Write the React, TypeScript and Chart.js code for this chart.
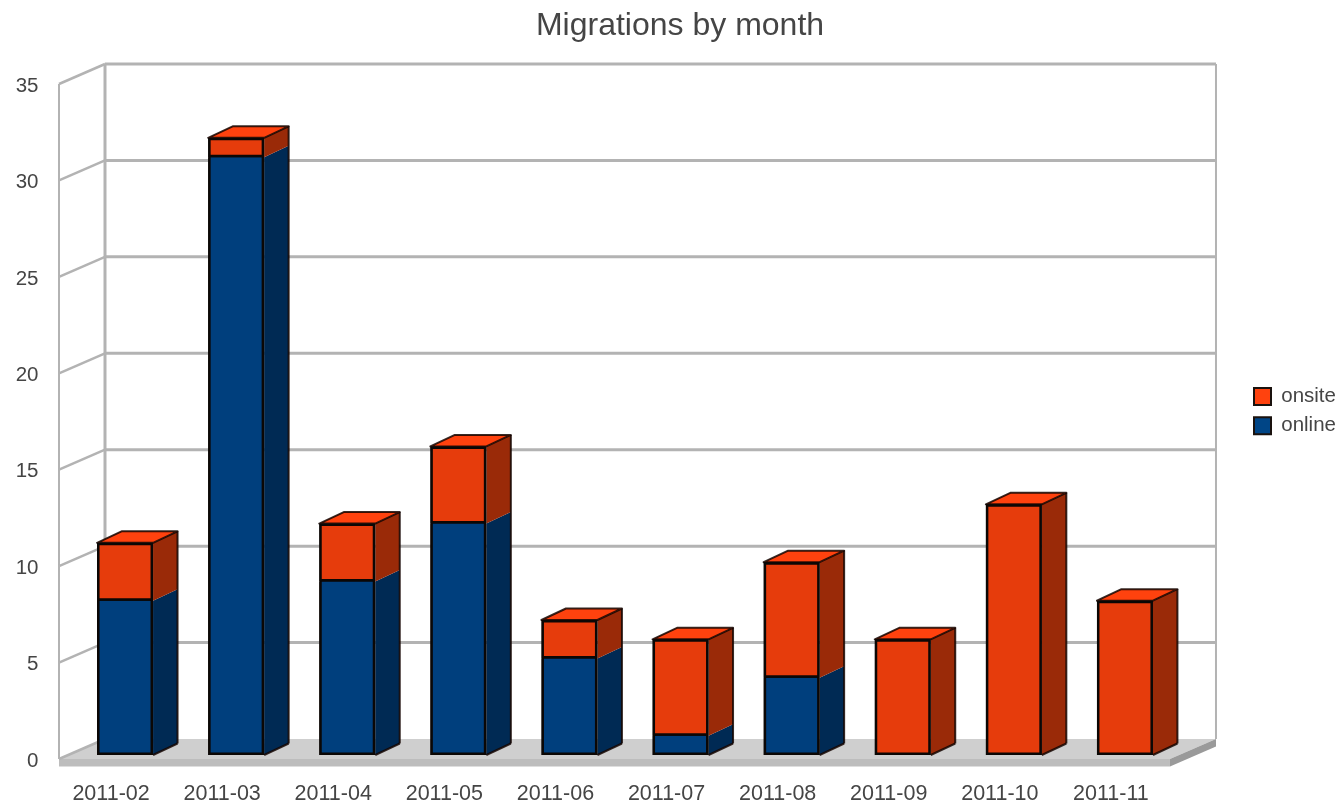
import React, { useEffect, useRef } from "react";
import { Chart, registerables } from "chart.js";

Chart.register(...registerables);

const months = ["2011-02", "2011-03", "2011-04", "2011-05", "2011-06", "2011-07", "2011-08", "2011-09", "2011-10", "2011-11"];
const online = [8, 31, 9, 12, 5, 1, 4, 0, 0, 0];
const onsite = [3, 1, 3, 4, 2, 5, 6, 6, 13, 8];

const FONT = "'Liberation Sans', Arial, sans-serif";
const TEXT = "#454545";
const GRID = "#b3b3b3";
const BAR_EDGE = "#0b0705";

// Shading of each series: front, side and top faces, plus the legend swatch.
const faces = [
  { front: "#003f7d", side: "#002a54", top: "#004586", key: "#004586" },
  { front: "#e63c0c", side: "#9a2a08", top: "#ff420e", key: "#ff420e" },
];

// Projection offsets, relative to the plane of the bars' front faces.
const BAR_DX = 24.5;
const BAR_DY = 11.5;
const WALL_FRONT = { dx: -10.5, dy: 4 };
const WALL_BACK = { dx: 35.5, dy: -16 };
const FLOOR_EDGE = 7.5;

function poly(ctx: CanvasRenderingContext2D, pts: number[][], fill?: string, stroke?: string, lw = 1) {
  ctx.beginPath();
  pts.forEach(([x, y], i) => (i ? ctx.lineTo(x, y) : ctx.moveTo(x, y)));
  ctx.closePath();
  if (fill) {
    ctx.fillStyle = fill;
    ctx.fill();
  }
  if (stroke) {
    ctx.strokeStyle = stroke;
    ctx.lineWidth = lw;
    ctx.lineJoin = "round";
    ctx.stroke();
  }
}

function line(ctx: CanvasRenderingContext2D, x1: number, y1: number, x2: number, y2: number, color: string, lw: number) {
  ctx.beginPath();
  ctx.moveTo(x1, y1);
  ctx.lineTo(x2, y2);
  ctx.strokeStyle = color;
  ctx.lineWidth = lw;
  ctx.stroke();
}

// Draws the room behind the bars and the side and top faces of every bar.
const extrusion = {
  id: "extrusion",
  afterLayout(chart: any) {
    const legend = chart.legend;
    const width = legend.right - legend.left;
    const height = legend.bottom - legend.top;
    legend.left = 1245.2;
    legend.right = legend.left + width;
    legend.top = 377.45;
    legend.bottom = legend.top + height;
    chart.titleBlock.left = 0;
    chart.titleBlock.right = 1360;
  },
  beforeDatasetsDraw(chart: any) {
    const { ctx, chartArea, scales } = chart;
    const { y } = scales;
    const left = chartArea.left;
    const right = chartArea.right;
    const y0 = y.getPixelForValue(0);
    const yMax = y.getPixelForValue(y.max);
    ctx.save();

    const fl = left + WALL_FRONT.dx;
    const fr = right + WALL_FRONT.dx;
    const bl = left + WALL_BACK.dx;
    const br = right + WALL_BACK.dx;

    // floor slab
    const fy = y0 + WALL_FRONT.dy;
    const by = y0 + WALL_BACK.dy;
    poly(ctx, [[fl, fy], [bl, by], [br, by], [fr, fy]], "#cfcfcf");
    poly(ctx, [[fl, fy], [fr, fy], [fr, fy + FLOOR_EDGE], [fl, fy + FLOOR_EDGE]], "#bdbdbd");
    poly(ctx, [[fr, fy], [br, by], [br, by + FLOOR_EDGE], [fr, fy + FLOOR_EDGE]], "#9a9a9a");

    // side wall, back wall and gridlines
    line(ctx, fl, yMax + WALL_FRONT.dy, fl, fy, GRID, 2);
    line(ctx, bl, yMax + WALL_BACK.dy, bl, by, GRID, 3);
    line(ctx, br, yMax + WALL_BACK.dy, br, by, GRID, 2);
    for (const tick of y.ticks) {
      const p = y.getPixelForValue(tick.value);
      line(ctx, fl, p + WALL_FRONT.dy, bl, p + WALL_BACK.dy, GRID, 2.5);
      if (tick.value > 0) line(ctx, bl, p + WALL_BACK.dy, br, p + WALL_BACK.dy, GRID, 3);
    }

    // side faces first, so the fronts painted by the library sit over their edges
    const edge = "rgba(20,5,0,0.85)";
    chart.data.labels.forEach((_: string, i: number) => {
      let topBar: any = null;
      let topFace: any = null;
      let baseY = 0;
      chart.data.datasets.forEach((ds: any, d: number) => {
        if (!ds.data[i]) return;
        const bar = chart.getDatasetMeta(d).data[i];
        const xr = bar.x + bar.width / 2;
        poly(ctx, [[xr, bar.y], [xr + BAR_DX, bar.y - BAR_DY], [xr + BAR_DX, bar.base - BAR_DY], [xr, bar.base]], faces[d].side);
        if (!topBar) baseY = bar.base;
        topBar = bar;
        topFace = faces[d];
      });
      if (!topBar) return;
      const xl = topBar.x - topBar.width / 2;
      const xr = topBar.x + topBar.width / 2;
      const t = topBar.y;
      poly(ctx, [[xl, t], [xl + BAR_DX, t - BAR_DY], [xr + BAR_DX, t - BAR_DY], [xr, t]], topFace.top, edge, 2);
      line(ctx, xr + BAR_DX, t - BAR_DY, xr + BAR_DX, baseY - BAR_DY, edge, 2);
      line(ctx, xr + BAR_DX, baseY - BAR_DY, xr, baseY, edge, 2);
      // dark backing keeps the seams between stacked fronts from showing through
      ctx.fillStyle = BAR_EDGE;
      ctx.fillRect(xl, t, xr - xl, baseY - t);
    });
    ctx.restore();
  },
};

export default function App() {
  const ref = useRef<HTMLCanvasElement>(null);

  useEffect(() => {
    const chart = new Chart(ref.current as HTMLCanvasElement, {
      type: "bar",
      plugins: [extrusion],
      data: {
        labels: months,
        datasets: [
          // the lower segment leaves its top edge to the segment stacked on it
          { label: "online", data: online, backgroundColor: faces[0].front, borderSkipped: "top" },
          { label: "onsite", data: onsite, backgroundColor: faces[1].front, borderSkipped: false },
        ],
      },
      options: {
        responsive: false,
        animation: false,
        events: [],
        layout: { padding: { left: 0, right: 55.75, top: 0, bottom: 0 } },
        datasets: {
          bar: {
            categoryPercentage: 0.504,
            barPercentage: 1,
            borderWidth: 2.5,
            borderColor: BAR_EDGE,
          },
        },
        plugins: {
          tooltip: { enabled: false },
          title: {
            display: true,
            text: "Migrations by month",
            color: TEXT,
            font: { family: FONT, size: 32, weight: "normal" },
            padding: { top: 6.5, bottom: 35.1 },
          },
          legend: {
            position: "right",
            align: "start",
            reverse: true,
            labels: {
              color: TEXT,
              font: { family: FONT, size: 20.5 },
              boxWidth: 17,
              boxHeight: 17,
              padding: 8.8,
              useBorderRadius: true,
              borderRadius: 2,
              generateLabels(c: any) {
                return c.data.datasets.map((ds: any, i: number) => ({
                  text: ds.label,
                  fillStyle: faces[i].key,
                  strokeStyle: "#1a120e",
                  lineWidth: 2,
                  fontColor: TEXT,
                  datasetIndex: i,
                }));
              },
            },
          },
        },
        scales: {
          x: {
            stacked: true,
            offset: true,
            afterFit(s: any) {
              s.height = 48;
            },
            grid: { display: false, drawTicks: false },
            border: { display: false },
            ticks: {
              color: TEXT,
              font: { family: FONT, size: 21.5, lineHeight: 1 },
              padding: 28,
              labelOffset: -14,
              maxRotation: 0,
              minRotation: 0,
              autoSkip: false,
            },
          },
          y: {
            stacked: true,
            min: 0,
            max: 35,
            afterFit(s: any) {
              s.width = 69.5;
            },
            grid: { display: false, drawTicks: false },
            border: { display: false },
            ticks: {
              stepSize: 5,
              color: TEXT,
              font: { family: FONT, size: 20.5 },
              padding: 31,
              labelOffset: 6,
            },
          },
        },
      } as any,
    });
    return () => chart.destroy();
  }, []);

  return (
    <canvas
      ref={ref}
      width={1337}
      height={803}
      style={{ position: "fixed", left: 0, top: 0, display: "block" }}
    />
  );
}
